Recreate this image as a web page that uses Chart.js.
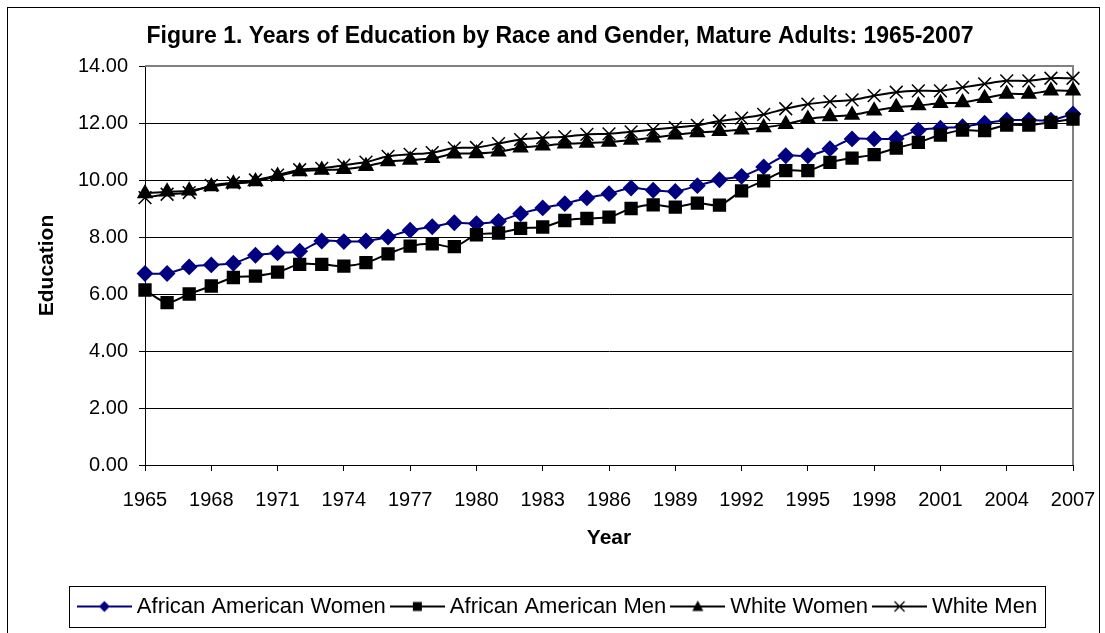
<!DOCTYPE html>
<html>
<head>
<meta charset="utf-8">
<script src="https://cdn.jsdelivr.net/npm/chart.js@4.4.1/dist/chart.umd.min.js"></script>
<style>
  html, body { margin: 0; padding: 0; background: #fff; }
  #wrap { position: relative; width: 1105px; height: 633px; overflow: hidden; }
</style>
</head>
<body>
<div id="wrap"><canvas id="eduChart" width="1105" height="633"></canvas></div>
<script>
// years 1965-2007
const years = [];
for (let y = 1965; y <= 2007; y++) years.push(String(y));

const seriesNames = ['African American Women', 'African American Men', 'White Women', 'White Men'];

const aaWomen = [
    6.72, 6.72, 6.95, 7.02, 7.08, 7.36, 7.44, 7.50, 7.86, 7.84,
    7.86, 8.00, 8.24, 8.36, 8.50, 8.47, 8.55, 8.82, 9.02, 9.17,
    9.37, 9.52, 9.72, 9.64, 9.60, 9.80, 10.01, 10.13, 10.46, 10.85,
    10.85, 11.10, 11.44, 11.44, 11.46, 11.75, 11.82, 11.87, 11.99, 12.10,
    12.10, 12.10, 12.32
];
const aaMen = [
    6.14, 5.70, 6.00, 6.28, 6.58, 6.63, 6.77, 7.04, 7.04, 6.98,
    7.10, 7.41, 7.68, 7.76, 7.66, 8.08, 8.14, 8.30, 8.35, 8.58,
    8.65, 8.70, 9.00, 9.13, 9.05, 9.19, 9.12, 9.62, 9.97, 10.33,
    10.33, 10.62, 10.77, 10.89, 11.12, 11.32, 11.58, 11.75, 11.73, 11.93,
    11.93, 12.02, 12.14
];
const whiteWomen = [
    9.53, 9.59, 9.62, 9.77, 9.87, 9.95, 10.14, 10.30, 10.35, 10.38,
    10.48, 10.65, 10.70, 10.76, 10.92, 10.93, 10.99, 11.13, 11.20, 11.27,
    11.30, 11.33, 11.40, 11.48, 11.59, 11.67, 11.71, 11.76, 11.84, 11.96,
    12.14, 12.23, 12.28, 12.43, 12.55, 12.61, 12.69, 12.72, 12.87, 13.02,
    13.02, 13.13, 13.13
];
const whiteMen = [
    9.38, 9.50, 9.56, 9.81, 9.90, 10.00, 10.17, 10.36, 10.41, 10.52,
    10.63, 10.83, 10.90, 10.96, 11.12, 11.14, 11.28, 11.42, 11.48, 11.52,
    11.60, 11.62, 11.69, 11.77, 11.84, 11.92, 12.07, 12.17, 12.30, 12.50,
    12.66, 12.75, 12.81, 12.96, 13.08, 13.13, 13.13, 13.25, 13.37, 13.48,
    13.48, 13.57, 13.57
];

const NAVY = '#000080';
const FONT = 'Liberation Sans, Arial, sans-serif';
Chart.defaults.font.family = FONT;
Chart.defaults.color = '#000';

// legend samples: a line with the marker in the middle, like Excel draws it
function legendIcon(color, shape) {
    const c = document.createElement('canvas');
    c.width = 55; c.height = 22;
    const g = c.getContext('2d');
    g.strokeStyle = color; g.fillStyle = color; g.lineWidth = 2;
    g.beginPath(); g.moveTo(0, 11); g.lineTo(55, 11); g.stroke();
    const cx = 27.5, cy = 11;
    g.beginPath();
    if (shape === 'diamond') {
        g.moveTo(cx, cy - 5.5); g.lineTo(cx + 5.5, cy); g.lineTo(cx, cy + 5.5); g.lineTo(cx - 5.5, cy); g.closePath(); g.fill();
    } else if (shape === 'square') {
        g.fillRect(cx - 4.5, cy - 4.5, 9, 9);
    } else if (shape === 'triangle') {
        g.moveTo(cx, cy - 6); g.lineTo(cx + 5.5, cy + 4.5); g.lineTo(cx - 5.5, cy + 4.5); g.closePath(); g.fill();
    } else {
        g.lineWidth = 1.3;
        g.moveTo(cx - 5, cy - 5); g.lineTo(cx + 5, cy + 5);
        g.moveTo(cx + 5, cy - 5); g.lineTo(cx - 5, cy + 5); g.stroke();
    }
    return c;
}
const legendIcons = [
    legendIcon(NAVY, 'diamond'),
    legendIcon('#000', 'square'),
    legendIcon('#000', 'triangle'),
    legendIcon('#000', 'cross')
];

const frames = {
    id: 'frames',
    beforeDraw(chart) {
        const ctx = chart.ctx;
        ctx.save();
        ctx.strokeStyle = '#000'; ctx.lineWidth = 1;
        ctx.strokeRect(7.5, 7.5, 1092, 700);
        ctx.restore();
    },
    beforeDatasetsDraw(chart) {
        const {ctx, chartArea: a} = chart;
        ctx.save();
        ctx.strokeStyle = '#808080'; ctx.lineWidth = 2;
        ctx.beginPath();
        ctx.moveTo(a.left, a.top); ctx.lineTo(a.right, a.top); ctx.lineTo(a.right, a.bottom);
        ctx.stroke();
        ctx.restore();
    },
    afterDraw(chart) {
        const lg = chart.legend;
        if (!lg || !lg.legendHitBoxes.length) return;
        const boxes = lg.legendHitBoxes;
        const left = Math.min(...boxes.map(b => b.left)) - 6 - 8;
        const right = Math.max(...boxes.map(b => b.left + b.width)) + 8;
        const ctx = chart.ctx;
        ctx.save();
        ctx.strokeStyle = '#000'; ctx.lineWidth = 1;
        ctx.strokeRect(Math.round(left) + 0.5, Math.round(lg.top) + 0.5, Math.round(right - left), Math.round(lg.bottom - lg.top) - 1);
        ctx.restore();
    }
};

new Chart(document.getElementById('eduChart'), {
    type: 'line',
    data: {
        labels: years,
        datasets: [{
            label: seriesNames[0], data: aaWomen, order: 3,
            borderColor: NAVY, backgroundColor: NAVY, borderWidth: 2,
            pointStyle: 'rectRot', pointRadius: 7, pointBackgroundColor: NAVY, pointBorderColor: NAVY
        }, {
            label: seriesNames[1], data: aaMen, order: 2,
            borderColor: '#000', backgroundColor: '#000', borderWidth: 2,
            pointStyle: 'rect', pointRadius: 8, pointBackgroundColor: '#000', pointBorderColor: '#000'
        }, {
            label: seriesNames[2], data: whiteWomen, order: 1,
            borderColor: '#000', backgroundColor: '#000', borderWidth: 2,
            pointStyle: 'triangle', pointRadius: 7.5, pointBackgroundColor: '#000', pointBorderColor: '#000'
        }, {
            label: seriesNames[3], data: whiteMen, order: 0,
            borderColor: '#000', backgroundColor: '#000', borderWidth: 2,
            pointStyle: 'crossRot', pointRadius: 9, pointBorderWidth: 1.5, pointBorderColor: '#000'
        }]
    },
    options: {
        responsive: false,
        animation: false,
        devicePixelRatio: 1,
        elements: { line: { tension: 0.3 } },
        layout: { padding: { left: 47, right: 32, top: 0, bottom: 5.5 } },
        plugins: {
            tooltip: { enabled: false },
            title: {
                display: true,
                text: 'Figure 1. Years of Education by Race and Gender, Mature Adults: 1965-2007',
                font: { size: 23, weight: 'bold' },
                color: '#000',
                padding: { top: 23.2, bottom: 15.2 }
            },
            legend: {
                position: 'bottom',
                labels: {
                    usePointStyle: true,
                    pointStyleWidth: 43,
                    padding: 10,
                    font: { size: 22 },
                    color: '#000',
                    sort: (a, b) => a.datasetIndex - b.datasetIndex,
                    generateLabels(chart) {
                        const items = Chart.defaults.plugins.legend.labels.generateLabels(chart);
                        items.forEach(it => { it.pointStyle = legendIcons[it.datasetIndex]; });
                        return items;
                    }
                }
            }
        },
        scales: {
            x: {
                grid: {
                    drawOnChartArea: false,
                    tickLength: 6,
                    tickColor: (ctx) => ctx.index % 3 === 0 ? '#000' : 'rgba(0,0,0,0)'
                },
                border: { color: '#000', width: 1 },
                ticks: {
                    autoSkip: false, maxRotation: 0, padding: 17,
                    font: { size: 20 }, color: '#000',
                    callback: (v, i) => i % 3 === 0 ? years[i] : ''
                },
                title: {
                    display: true, text: 'Year',
                    font: { size: 21, weight: 'bold' }, color: '#000',
                    padding: { top: 0, bottom: 35 }
                },
                afterFit: (s) => { s.height = 120.5; s.paddingRight = 0; s.paddingLeft = 0; }
            },
            y: {
                min: 0, max: 14,
                grid: {
                    color: (ctx) => ctx.tick && ctx.tick.value === 14 ? '#808080' : '#000',
                    tickColor: '#000',
                    tickLength: 6
                },
                border: { color: '#000', width: 1 },
                ticks: {
                    stepSize: 2, padding: 11,
                    font: { size: 20 }, color: '#000',
                    callback: (v) => v.toFixed(2)
                },
                title: {
                    display: true, text: 'Education',
                    font: { size: 21, weight: 'bold' }, color: '#000',
                    padding: { top: -12, bottom: 0 }
                },
                afterFit: (s) => { s.width = 98; }
            }
        }
    },
    plugins: [frames]
});
</script>
</body>
</html>
